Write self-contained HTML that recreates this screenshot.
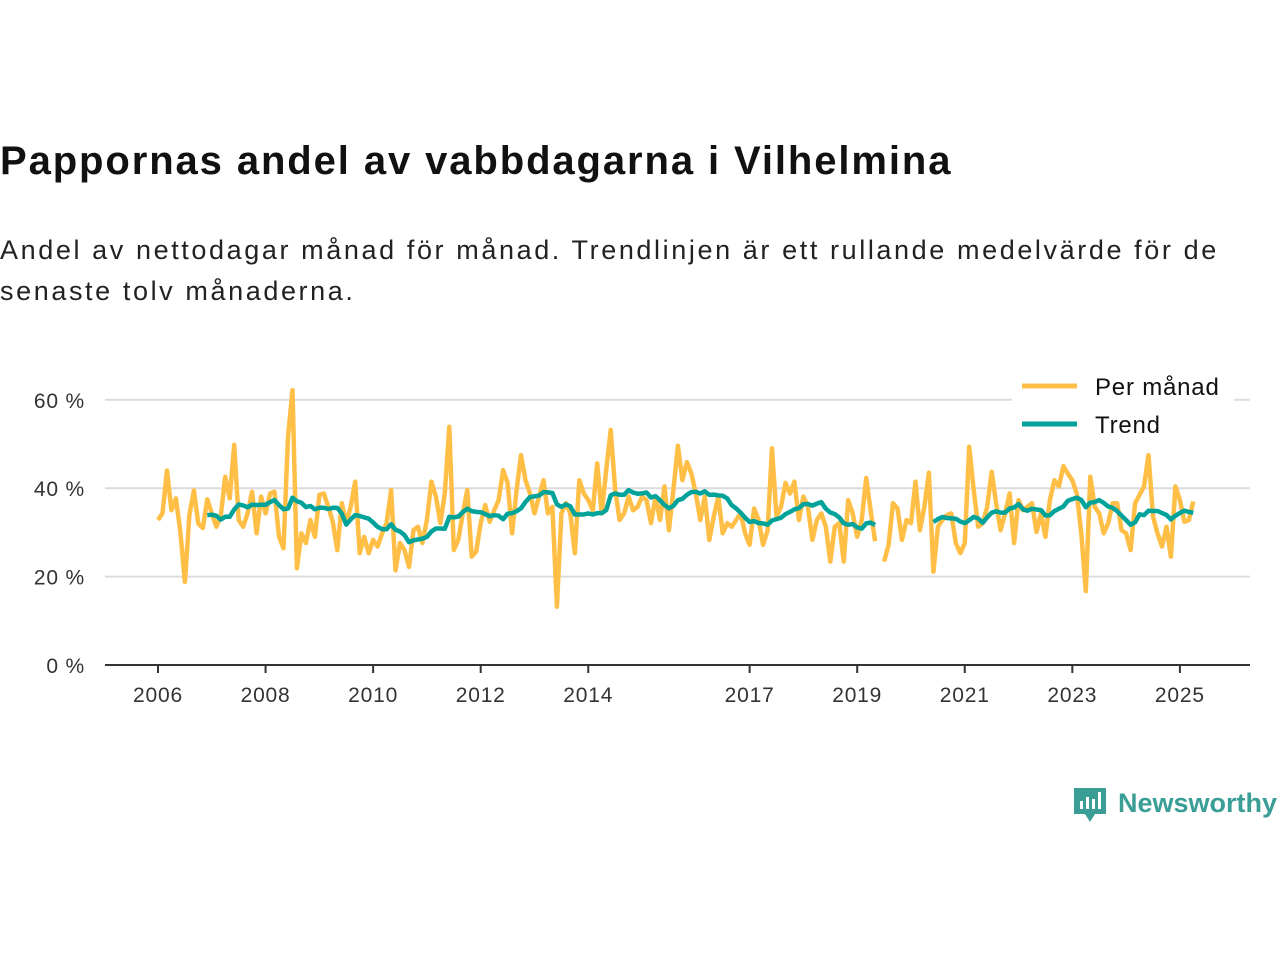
<!DOCTYPE html>
<html><head><meta charset="utf-8">
<style>
body{margin:0;background:#fff;font-family:"Liberation Sans","DejaVu Sans",sans-serif;}
#wrap{position:relative;width:1280px;height:960px;overflow:hidden;}
h1{position:absolute;left:0;top:139px;margin:0;font-size:40px;font-weight:bold;color:#111;letter-spacing:1.9px;white-space:nowrap;}
.sub{position:absolute;left:0;top:230px;margin:0;font-size:27px;line-height:41px;color:#222;width:1250px;letter-spacing:2.6px;}
</style></head><body>
<div id="wrap">
<h1>Pappornas andel av vabbdagarna i Vilhelmina</h1>
<p class="sub">Andel av nettodagar månad för månad. Trendlinjen är ett rullande medelvärde för de senaste tolv månaderna.</p>
<svg id="chart" width="1280" height="960" style="position:absolute;left:0;top:0"></svg>
</div>
<script>
const startYear = 2006;
const monthly = [
32.8,34.3,44,35,37.7,30,18.8,34,39.5,32,31,37.5,
34.3,31.3,33.6,42.6,37.7,49.8,32.8,31.3,34.3,39.2,29.8,38.1,
34.3,38.8,39.2,29,26.4,51.6,62.2,21.9,29.8,27.6,32.8,29,
38.5,38.8,35.8,32.4,26,36.6,32.1,35.8,41.5,25.3,29,25.3,
28.3,26.8,29.8,32.1,39.6,21.4,27.6,26,22.2,30.5,31.3,27.6,
32.8,41.5,38.1,32.1,38.8,53.9,26,28.3,34.3,39.6,24.5,25.7,
32.1,36.2,32.4,35,37.3,44.1,41.2,29.8,39.6,47.5,41.8,38.8,
34.3,38.1,41.8,34.3,35.8,13.2,34.3,36.6,34.3,25.3,41.8,38.8,
37.3,35,45.6,34.3,44.1,53.2,39.6,32.8,34.3,38.1,35,35.8,
38.1,37.3,32.1,38.1,32.8,40.4,30.5,39.6,49.6,41.8,45.9,43.3,
38.8,32.8,38.1,28.3,33.6,38.1,29.8,32.1,31.3,32.8,34.3,29.8,
27.2,35.4,32.8,27.2,30.5,49,33.6,35.8,41.2,38.8,41.5,32.8,
38.1,35.8,28.3,32.8,34.3,31.3,23.4,31.3,32.1,23.4,37.3,34.3,
29,32.8,42.3,35,28,null,23.4,27.2,36.6,35.4,28.3,32.8,
32.1,41.5,30.5,35.8,43.5,21.1,31.3,32.8,33.9,34.3,27.6,25.3,
27.6,49.4,39.6,31.3,32.1,35.8,43.7,36.6,30.5,34.3,38.8,27.6,
37.3,35,35.8,36.6,30.1,34.3,29,37.3,41.8,40.4,45,43.3,
41.8,38.8,29.8,16.7,42.6,35.8,34.3,29.8,32.1,36.6,36.6,30.5,
29.8,26,36.6,38.5,40.4,47.5,33.6,29.8,26.8,31.3,24.5,40.4,
37.3,32.4,32.8,37
];
const yTicks = [0,20,40,60];
const xTickYears = [2006,2008,2010,2012,2014,2017,2019,2021,2023,2025];
const legendLabels = ["Per månad","Trend"];

const NS="http://www.w3.org/2000/svg";
const svg=document.getElementById('chart');
const X0=158, PXM=4.482, Y0=665, PXV=4.42;
function xm(i){return X0+i*PXM;}
function yv(v){return Y0-v*PXV;}
function mk(t,a){const e=document.createElementNS(NS,t);for(const k in a)e.setAttribute(k,a[k]);svg.appendChild(e);return e;}

yTicks.forEach(v=>{
  if(v>0){const g=mk('line',{x1:105,x2:1250,y1:yv(v),y2:yv(v),stroke:'#dcdcdc','stroke-width':2});
  
  }
  const t=mk('text',{x:85,y:yv(v)+8,'text-anchor':'end','font-size':21,fill:'#333','font-family':'Liberation Sans, sans-serif','letter-spacing':'0.8'});
  t.textContent=v+' %';
  
  
});
const ax=mk('line',{x1:105,x2:1250,y1:Y0,y2:Y0,stroke:'#333','stroke-width':2});


xTickYears.forEach(yr=>{
  const x=xm((yr-startYear)*12);
  const tk=mk('line',{x1:x,x2:x,y1:Y0,y2:Y0+8,stroke:'#333','stroke-width':2});
  
  
  const t=mk('text',{x:x,y:Y0+37,'text-anchor':'middle','font-size':21,fill:'#333','font-family':'Liberation Sans, sans-serif','letter-spacing':'0.8'});
  t.textContent=yr;
  
  
});

function pathFrom(arr){
  let d='',pen=false;
  arr.forEach((v,i)=>{
    if(v==null){pen=false;return;}
    d+=(pen?'L':'M')+xm(i).toFixed(1)+','+yv(v).toFixed(1);pen=true;
  });
  return d;
}
const trend=monthly.map((v,i)=>{
  if(i<11)return null;
  let s=0;for(let k=i-11;k<=i;k++){if(monthly[k]==null)return null;s+=monthly[k];}
  return s/12;
});
const p1=mk('path',{d:pathFrom(monthly),fill:'none',stroke:'#ffbf47','stroke-width':4.5,'stroke-linejoin':'round'});


const p2=mk('path',{d:pathFrom(trend),fill:'none',stroke:'#00a39a','stroke-width':4.5,'stroke-linejoin':'round'});



const lb=mk('rect',{x:1012,y:366,width:222,height:78,fill:'#fff'});


const cols=['#ffbf47','#00a39a'];
legendLabels.forEach((l,i)=>{
  const y=386+i*38;
  const ln=mk('line',{x1:1022,x2:1077,y1:y,y2:y,stroke:cols[i],'stroke-width':5});
  
  
  const t=mk('text',{x:1095,y:y+9,'font-size':24,fill:'#111','font-family':'Liberation Sans, sans-serif','letter-spacing':'0.8'});
  t.textContent=l;
  
  
});

const g=mk('g',{});


g.innerHTML='<path d="M1074,788 h32 v26 h-11 l-5,8 l-5,-8 h-11 z" fill="#3a9e96"/>'+
'<rect x="1080" y="801" width="3" height="8" fill="#fff"/><rect x="1086" y="797" width="3" height="12" fill="#fff"/><rect x="1092" y="799" width="3" height="10" fill="#fff"/><rect x="1098" y="792" width="3" height="17" fill="#fff"/>'+
'<text x="1118" y="812" font-size="27" font-weight="bold" fill="#3a9e96" font-family="Liberation Sans, sans-serif">Newsworthy</text>';
</script>
</body></html>
